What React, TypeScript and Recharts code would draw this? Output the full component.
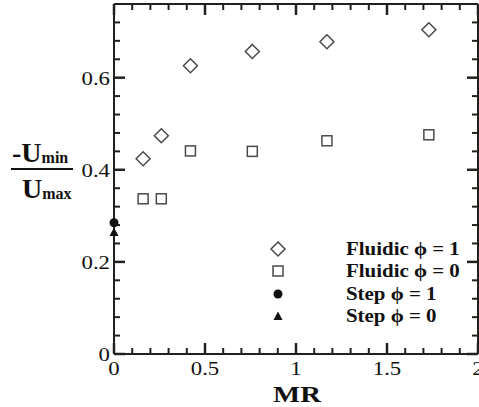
import { ScatterChart, Scatter, XAxis, YAxis, Legend, Customized, ReferenceLine } from 'recharts'

// mass ratio for the fluidic cases
const mrFluidic = [0.16, 0.26, 0.42, 0.76, 1.17, 1.73]
const fluidicPhi1 = [0.424, 0.474, 0.626, 0.657, 0.678, 0.704]
const fluidicPhi0 = [0.337, 0.337, 0.441, 0.44, 0.463, 0.476]

// step cases sit on MR = 0
const mrStep = [0]
const stepPhi1 = [0.285]
const stepPhi0 = [0.265]

const xMajor = [0, 0.5, 1, 1.5, 2]
const xMinor = [0, 0.1, 0.2, 0.3, 0.4, 0.5, 0.6, 0.7, 0.8, 0.9, 1, 1.1, 1.2, 1.3, 1.4, 1.5, 1.6, 1.7, 1.8, 1.9, 2]
const yMajor = [0, 0.2, 0.4, 0.6]
const yMinor = [0, 0.04, 0.08, 0.12, 0.16, 0.2, 0.24, 0.28, 0.32, 0.36, 0.4, 0.44, 0.48, 0.52, 0.56, 0.6, 0.64, 0.68, 0.72, 0.76]

const legendNames = ['Fluidic ϕ = 1', 'Fluidic ϕ = 0', 'Step ϕ = 1', 'Step ϕ = 0']

const X_MAX = 2
const Y_MAX = 0.76
// tick lengths in data units (plot is 364px x 350px)
const PX_X = X_MAX / 364
const PX_Y = Y_MAX / 350

const AXIS = '#1e211c'
const MARK = '#4a4a4a'
const FONT = "'Liberation Serif', 'Times New Roman', serif"

const toPoints = (xs: number[], ys: number[]) => xs.map((x, i) => ({ x, y: ys[i] }))

function StretchText({ x, y, anchor, size, bold, children }: any) {
  return (
    <text
      transform={`translate(${x},${y}) scale(1.2,1)`}
      textAnchor={anchor}
      fontFamily={FONT}
      fontSize={size}
      fontWeight={bold ? 'bold' : 'normal'}
      fill="#111"
    >
      {children}
    </text>
  )
}

function Diamond({ cx, cy }: any) {
  return <polygon points={`${cx},${cy - 7} ${cx + 7},${cy} ${cx},${cy + 7} ${cx - 7},${cy}`} fill="none" stroke={MARK} strokeWidth={1.5} />
}
function Square({ cx, cy }: any) {
  return <rect x={cx - 5} y={cy - 5} width={10} height={10} fill="none" stroke={MARK} strokeWidth={1.5} />
}
function Dot({ cx, cy }: any) {
  return <circle cx={cx} cy={cy} r={4.5} fill="#111" />
}
function Tri({ cx, cy }: any) {
  return <polygon points={`${cx},${cy - 4.5} ${cx + 4.5},${cy + 4} ${cx - 4.5},${cy + 4}`} fill="#111" />
}
const symbols = [Diamond, Square, Dot, Tri]

function Titles() {
  return (
    <g fontFamily={FONT} fontWeight="bold" fill="#111">
      <text x={12} y={162} fontSize={28}>
        -U<tspan fontSize={16} dy={1}>min</tspan>
      </text>
      <line x1={11} x2={73} y1={169} y2={169} stroke="#111" strokeWidth={2} />
      <text x={22} y={198} fontSize={28}>
        U<tspan fontSize={16} dy={1}>max</tspan>
      </text>
      <StretchText x={297} y={402} anchor="middle" size={24} bold>MR</StretchText>
    </g>
  )
}

function LegendBox() {
  return (
    <div style={{ fontFamily: FONT, fontWeight: 'bold', fontSize: 19, color: '#111' }}>
      {legendNames.map((name, i) => {
        const Sym = symbols[i]
        return (
          <div key={name} style={{ display: 'flex', alignItems: 'center', height: 22.3 }}>
            <svg width={20} height={20} style={{ marginRight: 58 }}>
              <Sym cx={10} cy={10} />
            </svg>
            <span style={{ display: 'inline-block', transform: 'scaleX(1.1)', transformOrigin: 'left center', whiteSpace: 'nowrap' }}>
              {name}
            </span>
          </div>
        )
      })}
    </div>
  )
}

// inward tick marks on all four sides, drawn as short reference segments
function tickLines() {
  const out: any[] = []
  const common = { xAxisId: 'b', yAxisId: 'l', stroke: AXIS, ifOverflow: 'visible' as const }
  xMinor.forEach((v) => {
    const isMajor = xMajor.includes(v)
    const len = (isMajor ? 11 : 6) * PX_Y
    const w = isMajor ? 2.5 : 2
    out.push(
      <ReferenceLine key={`xb${v}`} {...common} strokeWidth={w} segment={[{ x: v, y: 0 }, { x: v, y: len }]}
        label={isMajor ? (lp: any) => (
          <StretchText x={lp.viewBox.x} y={lp.viewBox.y + lp.viewBox.height + 21} anchor="middle" size={19}>{String(v)}</StretchText>
        ) : undefined} />,
      <ReferenceLine key={`xt${v}`} {...common} strokeWidth={w} segment={[{ x: v, y: Y_MAX }, { x: v, y: Y_MAX - len }]} />
    )
  })
  yMinor.forEach((v) => {
    const isMajor = yMajor.includes(v)
    const len = (isMajor ? 11 : 6) * PX_X
    const w = isMajor ? 2.5 : 2
    out.push(
      <ReferenceLine key={`yl${v}`} {...common} strokeWidth={w} segment={[{ x: 0, y: v }, { x: len, y: v }]}
        label={isMajor ? (lp: any) => (
          <StretchText x={lp.viewBox.x - 4} y={lp.viewBox.y + 7} anchor="end" size={19}>{String(v)}</StretchText>
        ) : undefined} />,
      <ReferenceLine key={`yr${v}`} {...common} strokeWidth={w} segment={[{ x: X_MAX, y: v }, { x: X_MAX - len, y: v }]} />
    )
  })
  return out
}

export default function App() {
  const frame = { stroke: AXIS, strokeWidth: 2 }
  return (
    <div style={{ position: 'absolute', left: 0, top: 0, width: 479, height: 407, background: '#fff' }}>
      <ScatterChart width={479} height={407} margin={{ top: 3, right: 0, bottom: 52, left: 113 }}>
        <XAxis xAxisId="b" dataKey="x" type="number" domain={[0, X_MAX]} ticks={xMajor} height={1} orientation="bottom"
          axisLine={frame} tick={false} tickLine={false} />
        <XAxis xAxisId="t" dataKey="x" type="number" domain={[0, X_MAX]} ticks={xMajor} height={1} orientation="top"
          axisLine={frame} tick={false} tickLine={false} />
        <YAxis yAxisId="l" dataKey="y" type="number" domain={[0, Y_MAX]} ticks={yMajor} width={1} orientation="left"
          axisLine={frame} tick={false} tickLine={false} />
        <YAxis yAxisId="r" dataKey="y" type="number" domain={[0, Y_MAX]} ticks={yMajor} width={1} orientation="right"
          axisLine={frame} tick={false} tickLine={false} />
        {tickLines()}
        <Scatter name={legendNames[0]} data={toPoints(mrFluidic, fluidicPhi1)} xAxisId="b" yAxisId="l" shape={<Diamond />} isAnimationActive={false} />
        <Scatter name={legendNames[1]} data={toPoints(mrFluidic, fluidicPhi0)} xAxisId="b" yAxisId="l" shape={<Square />} isAnimationActive={false} />
        <Scatter name={legendNames[2]} data={toPoints(mrStep, stepPhi1)} xAxisId="b" yAxisId="l" shape={<Dot />} isAnimationActive={false} />
        <Scatter name={legendNames[3]} data={toPoints(mrStep, stepPhi0)} xAxisId="b" yAxisId="l" shape={<Tri />} isAnimationActive={false} />
        <Customized component={<Titles />} />
        <Legend layout="vertical" align="center" verticalAlign="middle" wrapperStyle={{ left: 268, top: 238, width: 210 }} content={<LegendBox />} />
      </ScatterChart>
    </div>
  )
}
